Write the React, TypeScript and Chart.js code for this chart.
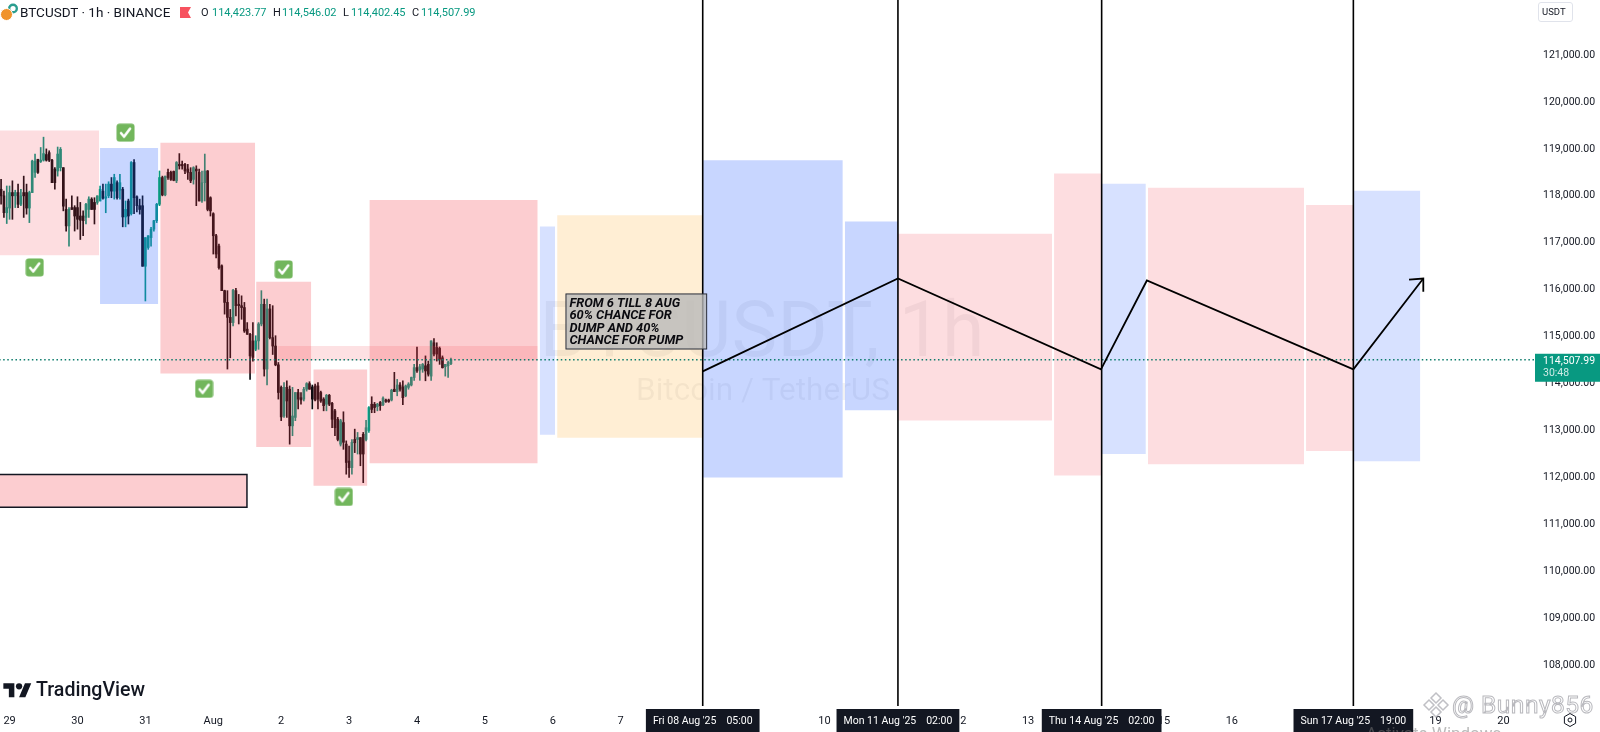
import React, { useEffect, useRef } from "react";
import { Chart, registerables } from "chart.js";

Chart.register(...registerables);

// ---- data: x values are days, where 1 = 1 Aug 2025 00:00; y values are prices ----
const firstCandleDay = -2.125;
const opens = [
118140,118000,117640,117740,118070,118000,118070,117820,118070,118070,
117740,118070,118500,118780,118730,118760,118880,118920,118760,118570,
118530,118600,118600,117710,117360,117750,117750,117750,117570,117570,
117540,117710,117930,117860,117860,117890,118100,117950,118000,118250,
118100,118280,118120,118140,117550,117890,117620,118710,117980,117790,
117790,116500,116900,117110,117290,117470,117820,118390,118020,118500,
118500,118520,118320,118670,118670,118670,118570,118500,118350,118570,
118500,117890,118280,118530,117960,117620,117150,116930,116510,115980,
115730,115410,115300,115980,115690,115660,115620,115160,115050,114910,
114730,114910,115270,115690,114310,115590,114980,114800,114400,113920,
113310,113920,113880,113100,113280,113810,113700,113670,113880,114000,
113930,113950,113950,113810,113670,113560,113750,113580,113420,113240,
112710,113170,112710,112350,112210,112810,112810,112850,112920,112810,
113000,113560,113560,113510,113600,113550,113650,113650,113650,113880,
113830,113970,113930,113740,113920,113970,114130,114340,114290,114310,
114380,114410,114160,114870,114770,114750,114550,114360,114380,114423.77];
const closes = [
118000,117640,117750,118070,118000,118070,117820,118000,118000,117740,
118070,118740,118740,118500,118760,118900,118760,118760,118280,118280,
118890,118990,117780,117360,117710,117710,117570,117500,117480,117470,
117820,117930,117710,117710,118000,118140,117950,117980,118250,118100,
118390,117960,118280,117550,117710,117570,118710,117960,117790,117710,
116500,117110,117150,117290,117470,117820,118390,118020,118420,118390,
118350,118330,118710,118640,118640,118530,118500,118320,118600,118530,
117890,118280,118530,117710,117680,117150,116760,116470,115980,115730,
115410,115300,115990,115660,115660,115620,115120,115050,114590,114560,
114910,115270,115690,114310,115590,114980,114800,114400,113810,113290,
113920,113630,113100,113310,113810,113670,113650,113880,114000,113880,
113670,113650,113670,113630,113530,113750,113560,113240,113060,112810,
113210,112750,112320,112210,112750,112740,112850,112500,112500,113060,
113490,113450,113490,113560,113530,113690,113620,113620,113860,113830,
113970,113880,113700,113950,113990,114130,114340,114270,114360,114410,
114270,114200,114910,114630,114630,114520,114340,114410,114450,114507.99];
const highs = [
118350,118100,118210,118210,118320,118120,118250,118140,118420,118250,
118100,118760,118890,118780,119030,119250,119000,118960,118780,118600,
119040,119030,118600,117930,117750,118000,117790,117980,117860,117680,
117840,117980,117960,117960,118000,118210,118250,118250,118300,118390,
118460,118320,118460,118180,117890,117930,118730,118770,118000,117930,
118000,117110,117150,117330,117480,117840,118530,118420,118420,118570,
118530,118530,118730,118900,118740,118690,118670,118600,118620,118640,
118570,118530,118890,118540,117980,117640,117180,116970,116530,115990,
115980,115580,116010,116030,115900,115870,115730,115300,115070,115300,
115020,115300,115980,115800,115800,115690,115660,115020,114450,113950,
114020,114060,113950,113920,113810,113880,113810,113920,114020,114040,
113970,113990,114020,113840,113700,113770,113770,113600,113450,113280,
113240,113400,112780,112670,112810,113030,112960,112850,112960,113220,
113510,113720,113600,113580,113620,113720,113670,113670,113880,114240,
114090,114020,114060,113970,114020,114140,114410,114780,114410,114430,
114590,114480,114910,114960,114870,114780,114590,114410,114480,114546.02];
const lows = [
117820,117540,117410,117500,117500,117750,117750,117790,117540,117610,
117430,118070,118390,118480,118710,118740,118740,118730,118280,118140,
118420,118530,117680,117250,116930,117710,117250,117290,117070,117150,
117400,117540,117710,117400,117820,117890,117930,117640,117960,117960,
117930,117930,117930,117340,117340,117400,117590,117620,117660,117610,
116500,115760,116860,116930,117250,117430,117790,118000,118000,118350,
118330,118320,118280,118570,118570,118470,118350,118280,118250,117790,
117890,117860,117890,117680,117570,116760,116680,116440,115980,115480,
114310,114550,115230,115440,115270,115370,115090,115050,114090,114480,
114700,114730,115230,114160,113970,114950,114620,114380,113670,113210,
113280,113280,112710,112890,113210,113460,113560,113630,113840,113880,
113460,113630,113460,113600,113420,113420,113530,113060,112890,112780,
112670,112600,112070,112000,112070,112530,112500,112250,111890,112780,
112960,113380,113380,113420,113430,113530,113600,113600,113630,113830,
113740,113840,113550,113720,113880,113950,114070,114240,114070,114240,
114060,114160,114070,114590,114480,114410,114330,114160,114130,114402.45];

const boxStarts = [-2.2,-0.668,0.219,1.631,2.473,3.299,1.947,5.808,6.064,8.208,10.301,11.083,13.382,14.073,14.764,17.093,17.79,-2.2];
const boxEnds = [-0.683,0.189,1.616,2.443,3.269,5.778,5.778,6.034,8.208,10.271,11.083,13.352,14.073,14.734,17.063,17.79,18.776,1.496];
const boxTops = [119390,119020,119129,116172,114302,117911,114802,117346,117585,118759,117455,117194,118476,118259,118172,117803,118107,112063];
const boxBottoms = [116737,115694,114215,112650,111824,112302,114498,112911,112846,111998,113433,113215,112041,112498,112281,112563,112346,111368];
const boxKinds = ["paleRed","blue","red","red","red","red","band","paleBlue","orange","blue","blue","paleRed","paleRed","paleBlue","paleRed","paleRed","paleBlue","red"];

const outlinedBoxIndex = 17;

const pathDays = [8.208,11.083,14.073,14.749,17.79,18.82];
const pathPrices = [114261,116239,114304,116196,114304,116239];
const arrowDays = [18.61,18.82,18.82];
const arrowPrices = [116217,116239,115957];

const cycleDays = [8.208,11.083,14.083,17.79];
const cycleLabels = ["Fri 08 Aug '25", "Mon 11 Aug '25", "Thu 14 Aug '25", "Sun 17 Aug '25"];
const cycleTimes = ["05:00","02:00","02:00","19:00"];

const checkDays = [-1.63,-0.292,0.865,2.037,2.923];
const checkPrices = [116476,119346,113889,116433,111585];

const lastPrice = 114507.99;
const countdown = "30:48";

const tickDays = [-2,-1,0,1,2,3,4,5,6,7,8,9,10,11,12,13,14,15,16,17,18,19,20];
const tickLabels = ["29","30","31","Aug","2","3","4","5","6","7","8","9","10","11","12","13","14","15","16","17","18","19","20"];
const priceTicks = [108000,109000,110000,111000,112000,113000,114000,115000,116000,117000,118000,119000,120000,121000];

const noteLines = ["FROM 6 TILL 8 AUG","60% CHANCE FOR","DUMP AND 40%","CHANCE FOR PUMP"];
const noteCorner = { day: 6.194, price: 115910, endDay: 8.266, endPrice: 114737 };

const ohlcParts = [
  ["O","114,423.77",201,212],
  ["H","114,546.02",273,282],
  ["L","114,402.45",343,351],
  ["C","114,507.99",412,421],
] as const;

// ---- styles ----
const UP = "#089981";
const DOWN = "#0b0b10";
const kindColor: Record<string,string> = {
  red: "rgba(242,54,69,0.25)",
  paleRed: "rgba(242,54,69,0.17)",
  band: "rgba(242,54,69,0.15)",
  blue: "rgba(41,98,255,0.26)",
  paleBlue: "rgba(41,98,255,0.19)",
  orange: "rgba(255,152,0,0.17)",
};
const FONT = "Roboto, 'Noto Sans', sans-serif";

function makeCheckIcon() {
  const c = document.createElement("canvas");
  c.width = 19; c.height = 19;
  const g = c.getContext("2d")!;
  g.fillStyle = "#72b65c";
  g.beginPath();
  g.roundRect(0.5, 0.5, 18, 18, 3);
  g.fill();
  g.strokeStyle = "#ffffff";
  g.lineWidth = 2.6;
  g.lineCap = "round";
  g.lineJoin = "round";
  g.beginPath();
  g.moveTo(5, 10);
  g.lineTo(8, 13.5);
  g.lineTo(14, 5.5);
  g.stroke();
  return c;
}

const watermarkPlugin = {
  id: "symbolWatermark",
  beforeDatasetsDraw(chart: any) {
    const { ctx } = chart;
    ctx.save();
    ctx.textAlign = "center";
    ctx.textBaseline = "middle";
    ctx.fillStyle = "rgba(19,23,34,0.055)";
    ctx.font = `77px ${FONT}`;
    ctx.fillText("BTCUSDT, 1h", 762, 337);
    ctx.font = `31.5px ${FONT}`;
    ctx.fillText("Bitcoin / TetherUS", 763, 392);
    ctx.restore();
  },
};

const tagsPlugin = {
  id: "tags",
  afterDraw(chart: any) {
    const { ctx, scales, chartArea } = chart;
    const x = scales.x, y = scales.y;
    ctx.save();
    // note box
    const nx0 = x.getPixelForValue(noteCorner.day);
    const nx1 = x.getPixelForValue(noteCorner.endDay);
    const ny0 = y.getPixelForValue(noteCorner.price);
    const ny1 = y.getPixelForValue(noteCorner.endPrice);
    ctx.fillStyle = "rgba(185,185,185,0.8)";
    ctx.fillRect(nx0, ny0, nx1 - nx0, ny1 - ny0);
    ctx.strokeStyle = "#2a2e39";
    ctx.lineWidth = 1;
    ctx.strokeRect(nx0, ny0, nx1 - nx0, ny1 - ny0);
    ctx.fillStyle = "#0b0b10";
    ctx.font = `italic bold 12.8px ${FONT}`;
    ctx.textAlign = "left";
    ctx.textBaseline = "middle";
    noteLines.forEach((t, i) => ctx.fillText(t, nx0 + 3.5, ny0 + 9.5 + i * 12.6));

    // date tags under the vertical lines
    ctx.font = `10.5px ${FONT}`;
    cycleDays.forEach((d, i) => {
      const px = x.getPixelForValue(d);
      const w = ctx.measureText(cycleLabels[i]).width + ctx.measureText(cycleTimes[i]).width + 24;
      ctx.fillStyle = "#131722";
      ctx.fillRect(px - w / 2, 709, w, 23);
      ctx.fillStyle = "#ffffff";
      ctx.textAlign = "left";
      ctx.fillText(cycleLabels[i], px - w / 2 + 7, 721);
      ctx.textAlign = "right";
      ctx.fillText(cycleTimes[i], px + w / 2 - 7, 721);
    });

    // last price tag
    const py = y.getPixelForValue(lastPrice);
    ctx.fillStyle = UP;
    ctx.fillRect(chartArea.right, py - 6, 65, 28);
    ctx.textAlign = "left";
    ctx.fillStyle = "#ffffff";
    ctx.font = `10.5px ${FONT}`;
    ctx.fillText("114,507.99", chartArea.right + 8, py + 1.5);
    ctx.fillStyle = "rgba(255,255,255,0.8)";
    ctx.fillText(countdown, chartArea.right + 8, py + 14);
    ctx.restore();
  },
};

const abs = (left: number, top: number, extra: React.CSSProperties = {}): React.CSSProperties => ({
  position: "absolute", left, top, whiteSpace: "nowrap", fontFamily: FONT, ...extra,
});

export default function App() {
  const ref = useRef<HTMLCanvasElement>(null);

  useEffect(() => {
    document.body.style.margin = "0";
    const candleDays = opens.map((_, i) => firstCandleDay + i / 24);
    const candleColors = opens.map((o, i) => (closes[i] >= o ? UP : DOWN));
    const icon = makeCheckIcon();

    const boxDatasets = boxStarts.map((s, i) => ({
      type: "line" as const,
      data: [{ x: s, y: boxTops[i] }, { x: boxEnds[i], y: boxTops[i] }],
      borderWidth: 0,
      borderColor: "rgba(0,0,0,0)",
      pointRadius: 0,
      fill: { target: { value: boxBottoms[i] }, above: kindColor[boxKinds[i]], below: kindColor[boxKinds[i]] },
      order: 20,
    }));
    const oi = outlinedBoxIndex;
    const lineBase = { type: "line" as const, pointRadius: 0, fill: false, tension: 0 };

    const chart = new Chart(ref.current!, {
      type: "bar",
      data: {
        datasets: [
          {
            type: "bar",
            data: candleDays.map((d, i) => ({ x: d, y: [lows[i], highs[i]] })),
            backgroundColor: candleColors,
            barThickness: 1,
            minBarLength: 1,
            grouped: false,
            order: 31,
          },
          {
            type: "bar",
            data: candleDays.map((d, i) => ({ x: d, y: [opens[i], closes[i]] })),
            backgroundColor: candleColors,
            barThickness: 2,
            minBarLength: 1,
            grouped: false,
            order: 30,
          },
          ...boxDatasets,
          {
            ...lineBase,
            data: [
              { x: boxStarts[oi], y: boxTops[oi] },
              { x: boxEnds[oi], y: boxTops[oi] },
              { x: boxEnds[oi], y: boxBottoms[oi] },
              { x: boxStarts[oi], y: boxBottoms[oi] },
            ],
            borderColor: "#131722",
            borderWidth: 1.5,
            order: 12,
          },
          {
            ...lineBase,
            data: [{ x: -3, y: lastPrice }, { x: 21, y: lastPrice }],
            borderColor: "#0d7c6c",
            borderWidth: 1.5,
            borderDash: [1.5, 2.6],
            order: 11,
          },
          ...cycleDays.map((d) => ({
            ...lineBase,
            data: [{ x: d, y: 107000 }, { x: d, y: 123000 }],
            borderColor: "#000000",
            borderWidth: 1.6,
            order: 10,
          })),
          {
            ...lineBase,
            data: pathDays.map((d, i) => ({ x: d, y: pathPrices[i] })),
            borderColor: "#000000",
            borderWidth: 1.8,
            order: 9,
          },
          {
            ...lineBase,
            data: arrowDays.map((d, i) => ({ x: d, y: arrowPrices[i] })),
            borderColor: "#000000",
            borderWidth: 1.8,
            order: 9,
          },
          {
            type: "line",
            showLine: false,
            data: checkDays.map((d, i) => ({ x: d, y: checkPrices[i] })),
            pointStyle: icon,
            pointRadius: 10,
            order: 5,
          },
        ] as any,
      },
      options: {
        responsive: false,
        animation: false,
        devicePixelRatio: 1,
        layout: { padding: 0, autoPadding: false },
        plugins: { legend: { display: false }, tooltip: { enabled: false }, title: { display: false } },
        events: [],
        scales: {
          x: {
            type: "linear",
            position: "bottom",
            offset: false,
            min: -2.141,
            max: 20.465,
            grid: { display: false, drawTicks: false },
            border: { display: false },
            afterBuildTicks(s: any) { s.ticks = tickDays.map((value) => ({ value })); },
            afterFit(s: any) { s.height = 26; s.paddingLeft = 0; s.paddingRight = 0; },
            ticks: {
              autoSkip: false,
              maxRotation: 0,
              padding: 9,
              color: "#131722",
              font: { family: FONT, size: 11 },
              callback: (v: any) => tickLabels[tickDays.indexOf(v)],
            },
          },
          y: {
            type: "linear",
            position: "right",
            min: 107132,
            max: 122172,
            grid: { display: false, drawTicks: false },
            border: { display: false },
            afterBuildTicks(s: any) { s.ticks = priceTicks.map((value) => ({ value })); },
            afterFit(s: any) { s.width = 65; s.paddingTop = 0; s.paddingBottom = 0; },
            ticks: {
              autoSkip: false,
              padding: 8,
              color: "#131722",
              font: { family: FONT, size: 10.5 },
              callback: (v: any) =>
                Number(v).toLocaleString("en-US", { minimumFractionDigits: 2, maximumFractionDigits: 2 }),
            },
          },
        },
      } as any,
      plugins: [watermarkPlugin, tagsPlugin],
    });
    return () => chart.destroy();
  }, []);

  return (
    <div style={{ position: "fixed", left: 0, top: 0, width: 1600, height: 732, background: "#fff", overflow: "hidden" }}>
      <canvas ref={ref} width={1600} height={732} style={{ display: "block" }} />

      {/* header */}
      <svg style={{ position: "absolute", left: 0, top: 2 }} width="20" height="20" viewBox="0 0 20 20">
        <circle cx="13" cy="6.5" r="5" fill="#2a9d8f" />
        <circle cx="13" cy="6.5" r="2.6" fill="#fff" />
        <circle cx="6.5" cy="12.5" r="6" fill="#f0932b" stroke="#fff" strokeWidth="1" />
      </svg>
      <div style={abs(20, 4, { fontSize: 13.5, color: "#131722", lineHeight: "17px" })}>BTCUSDT · 1h · BINANCE</div>
      <svg style={{ position: "absolute", left: 180, top: 7 }} width="11" height="11" viewBox="0 0 11 11">
        <path d="M0 0H11L8 5.5L11 11H0Z" fill="#f7525f" />
      </svg>
      {ohlcParts.map(([k, v, kx, vx]) => (
        <React.Fragment key={k}>
          <div style={abs(kx, 5, { fontSize: 11, lineHeight: "15px", color: "#131722" })}>{k}</div>
          <div style={abs(vx, 5, { fontSize: 11, lineHeight: "15px", color: UP })}>{v}</div>
        </React.Fragment>
      ))}
      <div style={abs(1538, 2, { width: 30, height: 18, border: "1px solid #e0e3eb", borderRadius: 3, fontSize: 9.5, color: "#131722", lineHeight: "18px", paddingLeft: 3, boxSizing: "content-box" })}>USDT</div>

      {/* logo */}
      <svg style={{ position: "absolute", left: 3, top: 680 }} width="29" height="22" viewBox="0 0 36 28">
        <path d="M14 22H7V11H0V4h14v18zM28 22h-8l7.5-18h8L28 22z" fill="#131722" />
        <circle cx="20" cy="8" r="4" fill="#131722" />
      </svg>
      <div style={abs(36, 678, { fontSize: 19.6, fontWeight: 500, color: "#131722", lineHeight: "24px" })}>TradingView</div>

      {/* settings */}
      <svg style={{ position: "absolute", left: 1562, top: 712 }} width="16" height="16" viewBox="0 0 16 16">
        <path d="M8 1.5L13.6 4.7V11.3L8 14.5L2.4 11.3V4.7Z" fill="none" stroke="#131722" strokeWidth="1" />
        <circle cx="8" cy="8" r="2" fill="none" stroke="#131722" strokeWidth="1" />
      </svg>

      {/* platform watermark */}
      <svg style={{ position: "absolute", left: 1422, top: 691 }} width="28" height="28" viewBox="0 0 28 28">
        <g fill="none" stroke="rgba(130,130,140,0.5)" strokeWidth="1.5">
          <path d="M14 2L19 7L14 12L9 7Z" />
          <path d="M7 9L12 14L7 19L2 14Z" />
          <path d="M21 9L26 14L21 19L16 14Z" />
          <path d="M14 16L19 21L14 26L9 21Z" />
        </g>
      </svg>
      <div style={abs(1452, 689, { fontSize: 24.5, lineHeight: "32px", color: "rgba(255,255,255,0.5)", WebkitTextStroke: "1px rgba(125,125,135,0.55)", letterSpacing: 0.5 } as any)}>@ Bunny856</div>
      <div style={abs(1366, 722, { fontSize: 17, lineHeight: "22px", color: "rgba(120,120,120,0.5)" })}>Activate Windows</div>
    </div>
  );
}
